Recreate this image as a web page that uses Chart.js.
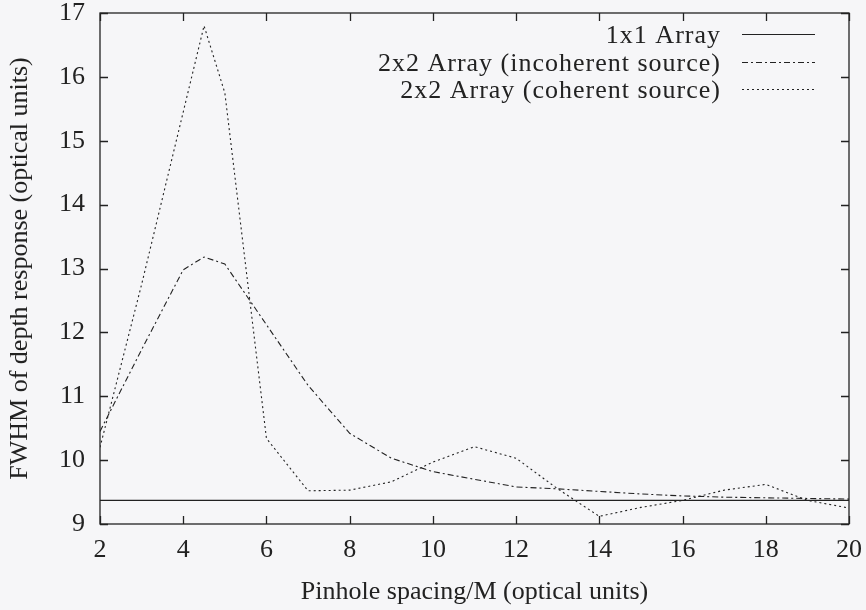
<!DOCTYPE html>
<html>
<head>
<meta charset="utf-8">
<script src="https://cdn.jsdelivr.net/npm/chart.js@4.4.0/dist/chart.umd.min.js"></script>
<style>
  html, body { margin: 0; padding: 0; background: #f6f6f8; }
  #wrap { width: 866px; height: 610px; }
</style>
</head>
<body>
<div id="wrap"><canvas id="fwhmChart"></canvas></div>
<script>
// values
const seriesLabels = ['1x1 Array', '2x2 Array (incoherent source)', '2x2 Array (coherent source)'];
const singleX = [2, 20];
const singleY = [9.37, 9.37];
const incoherentX = [2, 3, 4, 4.5, 5, 6, 7, 8, 9, 10, 11, 12, 13, 14, 15, 16, 17, 18, 19, 20];
const incoherentY = [10.45, 11.73, 12.98, 13.18, 13.07, 12.12, 11.17, 10.42, 10.03, 9.82, 9.7, 9.58, 9.55, 9.51, 9.47, 9.44, 9.42, 9.41, 9.4, 9.39];
const coherentX = [2, 3, 4, 4.5, 5, 6, 7, 8, 9, 10, 11, 12, 13, 14, 15, 16, 17, 18, 19, 20];
const coherentY = [10.2, 12.75, 15.45, 16.8, 15.75, 10.34, 9.52, 9.53, 9.66, 9.97, 10.21, 10.03, 9.55, 9.12, 9.26, 9.37, 9.53, 9.62, 9.37, 9.25];
const xTicks = [2, 4, 6, 8, 10, 12, 14, 16, 18, 20];
const yTicks = [9, 10, 11, 12, 13, 14, 15, 16, 17];

const ink = '#222';
const serif = 'Liberation Serif, Times New Roman, serif';
const fontSize = 26;

function toPoints(xs, ys) {
    return xs.map((v, i) => ({ x: v, y: ys[i] }));
}

const styles = [
    { dash: [] },
    { dash: [6, 3, 2, 3] },
    { dash: [2, 3] }
];

// box, inward tick marks on all sides, and gnuplot-style legend
const frame = {
    id: 'frame',
    afterDatasetsDraw(chart) {
        const { ctx, chartArea: a, scales: { x, y } } = chart;
        ctx.save();
        ctx.strokeStyle = ink;
        ctx.lineWidth = 1.3;
        ctx.setLineDash([]);
        ctx.strokeRect(a.left, a.top, a.right - a.left, a.bottom - a.top);
        ctx.beginPath();
        xTicks.forEach(v => {
            const px = Math.round(x.getPixelForValue(v)) + 0.5;
            ctx.moveTo(px, a.bottom); ctx.lineTo(px, a.bottom - 8);
            ctx.moveTo(px, a.top); ctx.lineTo(px, a.top + 8);
        });
        yTicks.forEach(v => {
            const py = Math.round(y.getPixelForValue(v)) + 0.5;
            ctx.moveTo(a.left, py); ctx.lineTo(a.left + 8, py);
            ctx.moveTo(a.right, py); ctx.lineTo(a.right - 8, py);
        });
        ctx.stroke();

        ctx.font = fontSize + 'px ' + serif;
        ctx.fillStyle = ink;
        ctx.textAlign = 'right';
        ctx.textBaseline = 'alphabetic';
        ctx.letterSpacing = '1px';
        chart.data.datasets.forEach((ds, i) => {
            const base = a.top + 30 + i * 27.5;
            const ly = Math.round(a.top + 21 + i * 27.5) + 0.5;
            ctx.fillText(ds.label, a.right - 128, base);
            ctx.beginPath();
            ctx.lineWidth = 1;
            ctx.setLineDash(ds.borderDash || []);
            ctx.moveTo(a.right - 107, ly);
            ctx.lineTo(a.right - 34, ly);
            ctx.stroke();
        });
        ctx.restore();
    }
};

const ctx = document.getElementById('fwhmChart').getContext('2d');
new Chart(ctx, {
    type: 'line',
    data: {
        datasets: [
            { label: seriesLabels[0], data: toPoints(singleX, singleY) },
            { label: seriesLabels[1], data: toPoints(incoherentX, incoherentY) },
            { label: seriesLabels[2], data: toPoints(coherentX, coherentY) }
        ].map((ds, i) => Object.assign(ds, {
            borderColor: ink,
            borderWidth: 1.1,
            borderDash: styles[i].dash,
            pointRadius: 0,
            tension: 0,
            fill: false
        }))
    },
    options: {
        responsive: true,
        maintainAspectRatio: false,
        animation: false,
        layout: { padding: { left: 5, right: 17, top: 13, bottom: 0 } },
        plugins: {
            legend: { display: false },
            tooltip: { enabled: false }
        },
        scales: {
            x: {
                type: 'linear',
                min: 2,
                max: 20,
                afterBuildTicks: s => { s.ticks = xTicks.map(v => ({ value: v })); },
                afterFit: s => { s.height = 86; s.paddingLeft = 0; s.paddingRight = 0; },
                grid: { display: false, drawTicks: false },
                border: { display: false },
                ticks: { color: ink, font: { family: serif, size: fontSize }, padding: 11, maxRotation: 0 },
                title: { display: true, text: 'Pinhole spacing/M (optical units)', color: ink, font: { family: serif, size: fontSize }, padding: { top: 0, bottom: 2 } }
            },
            y: {
                min: 9,
                max: 17,
                afterBuildTicks: s => { s.ticks = yTicks.map(v => ({ value: v })); },
                afterFit: s => { s.width = 95; s.paddingTop = 0; s.paddingBottom = 0; },
                grid: { display: false, drawTicks: false },
                border: { display: false },
                ticks: { color: ink, font: { family: serif, size: fontSize }, padding: 15 },
                title: { display: true, text: 'FWHM of depth response (optical units)', color: ink, font: { family: serif, size: fontSize }, padding: { top: 0, bottom: 0 } }
            }
        }
    },
    plugins: [frame]
});
</script>
</body>
</html>
